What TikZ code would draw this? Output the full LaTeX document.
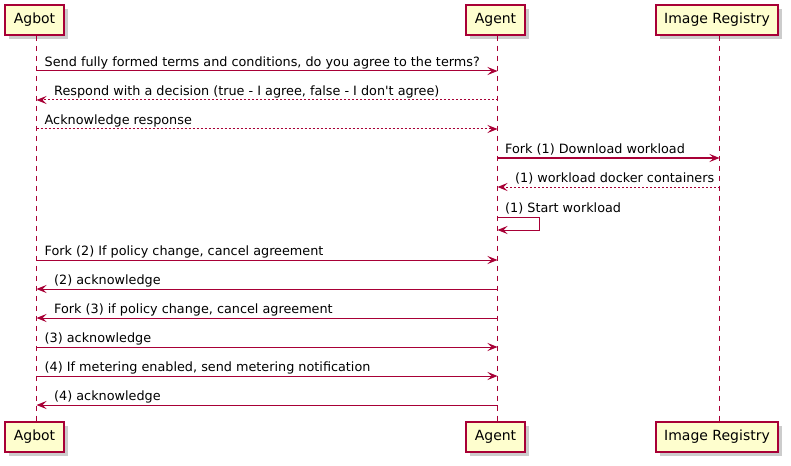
\documentclass[tikz,border=0pt]{standalone}
\usepackage{fontspec}
\setmainfont{DejaVu Sans}
\usetikzlibrary{arrows.meta,shadows}
\definecolor{pumlred}{HTML}{A80036}
\definecolor{pumlfill}{HTML}{FEFECE}
\begin{document}
\begin{tikzpicture}[x=1pt,y=-1pt,
  part/.style={draw=pumlred, line width=1.3pt, fill=pumlfill, minimum height=30pt,
    inner xsep=0pt, inner ysep=0pt, font=\fontsize{14}{16}\selectfont, text=black,
    drop shadow={shadow xshift=4pt, shadow yshift=-4pt, fill=black, opacity=0.2}},
  lifeline/.style={draw=pumlred, line width=1pt, dash pattern=on 5pt off 5pt},
  msg/.style={draw=pumlred, line width=1pt, -{Stealth[length=10pt,width=8pt,inset=4pt,fill=pumlred]}},
  ret/.style={msg, dash pattern=on 2pt off 2pt},
  lbl/.style={font=\fontsize{12.8}{15}\selectfont, text=black, inner sep=0pt, anchor=base west},
]
\useasboundingbox (0,0) rectangle (791,465);
% participants (top)
\node[part, minimum width=59pt] (agbotT) at (34.5,20) {Agbot};
\node[part, minimum width=59pt] (agentT) at (495.5,20) {Agent};
\node[part, minimum width=122pt] (regT) at (717,20) {Image Registry};
% participants (bottom)
\node[part, minimum width=59pt] (agbotB) at (34.5,437) {Agbot};
\node[part, minimum width=59pt] (agentB) at (495.5,437) {Agent};
\node[part, minimum width=122pt] (regB) at (717,437) {Image Registry};
% lifeline axes
\coordinate (agbotL) at (36.5,0);
\coordinate (agentL) at (497.5,0);
\coordinate (regL) at (719.5,0);
\draw[lifeline] (agbotL |- agbotT.south) -- (agbotL |- agbotB.north);
\draw[lifeline] (agentL |- agentT.south) -- (agentL |- agentB.north);
\draw[lifeline] (regL |- regT.south) -- (regL |- regB.north);
% messages
\draw[msg] (agbotL |- 0,71) -- (agentL |- 0,71);
\node[lbl] (m1) at (44.5,66.5) {Send fully formed terms and conditions, do you agree to the terms?};
\draw[ret] (agentL |- 0,100) -- (agbotL |- 0,100);
\node[lbl] (m2) at (54,95.5) {Respond with a decision (true - I agree, false - I don\textquotesingle t agree)};
\draw[ret] (agbotL |- 0,129) -- (agentL |- 0,129);
\node[lbl] (m3) at (44.5,124.5) {Acknowledge response};
\draw[msg] (agentL |- 0,158) -- (regL |- 0,158);
\node[lbl] (m4) at (505,153.5) {Fork (1) Download workload};
\draw[ret] (regL |- 0,187) -- (agentL |- 0,187);
\node[lbl] (m5) at (515,182.5) {(1) workload docker containers};
\draw[msg] (agentL |- 0,217) -- (539,217) -- (539,230) -- (agentL |- 0,230);
\node[lbl] (m6) at (505,212) {(1) Start workload};
\draw[msg] (agbotL |- 0,260) -- (agentL |- 0,260);
\node[lbl] (m7) at (44.5,255.5) {Fork (2) If policy change, cancel agreement};
\draw[msg] (agentL |- 0,289) -- (agbotL |- 0,289);
\node[lbl] (m8) at (54,284.5) {(2) acknowledge};
\draw[msg] (agentL |- 0,318) -- (agbotL |- 0,318);
\node[lbl] (m9) at (54,313.5) {Fork (3) if policy change, cancel agreement};
\draw[msg] (agbotL |- 0,347) -- (agentL |- 0,347);
\node[lbl] (m10) at (44.5,342.5) {(3) acknowledge};
\draw[msg] (agbotL |- 0,376) -- (agentL |- 0,376);
\node[lbl] (m11) at (44.5,371.5) {(4) If metering enabled, send metering notification};
\draw[msg] (agentL |- 0,405) -- (agbotL |- 0,405);
\node[lbl] (m12) at (54,400.5) {(4) acknowledge};
\end{tikzpicture}
\end{document}
